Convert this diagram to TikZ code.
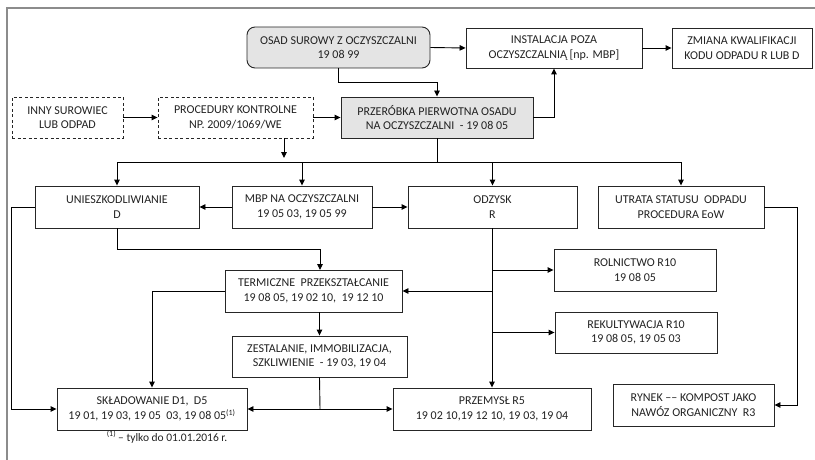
\documentclass[tikz,border=0pt]{standalone}
\usepackage{fontspec}
\setmainfont{Carlito}
\usetikzlibrary{arrows.meta}
\definecolor{boxgray}{HTML}{E4E4E4}
\definecolor{txt}{HTML}{222222}
\definecolor{frame}{HTML}{8C8C8C}
\tikzset{
  box/.style={draw=black!85, line width=0.9pt, align=center, inner sep=0pt,
    font=\fontsize{12}{14.5}\selectfont, text=txt},
  graybox/.style={box, fill=boxgray},
  dashbox/.style={box, dashed, dash pattern=on 3pt off 2.5pt},
  conn/.style={draw=black, line width=0.9pt},
  arr/.style={conn, -{Triangle[length=6pt,width=5.5pt]}},
}
\begin{document}
\begin{tikzpicture}[x=1pt,y=-1pt]
\useasboundingbox (0,0) rectangle (815,460);
\draw[frame, line width=1.6pt] (7,460) -- (7,8) -- (815,8);

% top row
\node[graybox, rounded corners=8pt, minimum width=183, minimum height=41] (osad) at (338.5,47.5) {OSAD SUROWY Z OCZYSZCZALNI\\19 08 99};
\node[box, minimum width=176, minimum height=40] (inst) at (554,48) {INSTALACJA POZA\\OCZYSZCZALNIĄ [np. MBP]};
\node[box, minimum width=140, minimum height=40] (zmiana) at (742,48) {ZMIANA KWALIFIKACJI\\KODU ODPADU R LUB D};

% second row
\node[dashbox, minimum width=111, minimum height=41] (inny) at (67.5,117.5) {INNY SUROWIEC\\LUB ODPAD};
\node[dashbox, minimum width=155, minimum height=41] (proc) at (235.5,117.5) {PROCEDURY KONTROLNE\\NP. 2009/1069/WE};
\node[graybox, minimum width=192, minimum height=41] (przer) at (437,117.5) {PRZERÓBKA PIERWOTNA OSADU\\NA OCZYSZCZALNI \ - 19 08 05};

% third row
\node[box, minimum width=164, minimum height=42] (unies) at (117,207) {UNIESZKODLIWIANIE\\D};
\node[box, minimum width=140, minimum height=42] (mbp) at (302,207) {MBP NA OCZYSZCZALNI\\19 05 03, 19 05 99};
\node[box, minimum width=169, minimum height=42] (odzysk) at (492.5,207) {ODZYSK\\R};
\node[box, minimum width=166, minimum height=42] (utrata) at (681,207) {UTRATA STATUSU \ ODPADU\\PROCEDURA EoW};

% lower part
\node[box, minimum width=177, minimum height=42] (term) at (313.5,291) {TERMICZNE \ PRZEKSZTAŁCANIE\\19 08 05, 19 02 10, \ 19 12 10};
\node[box, minimum width=162, minimum height=42] (roln) at (635,270) {ROLNICTWO R10\\19 08 05};
\node[box, minimum width=162, minimum height=41] (rekult) at (636,332.5) {REKULTYWACJA R10\\19 08 05, 19 05 03};
\node[box, minimum width=175, minimum height=41] (zest) at (319.5,356.5) {ZESTALANIE, IMMOBILIZACJA,\\SZKLIWIENIE \ - 19 03, 19 04};
\node[box, minimum width=190, minimum height=42] (sklad) at (152,409) {SKŁADOWANIE D1, \ D5\\19 01, 19 03, 19 05 \ 03, 19 08 05\textsuperscript{(1)}};
\node[box, minimum width=198, minimum height=42] (przem) at (492,409) {PRZEMYSŁ R5\\19 02 10,19 12 10, 19 03, 19 04};
\node[box, minimum width=161, minimum height=42] (rynek) at (693.5,405) {RYNEK –– KOMPOST JAKO\\NAWÓZ ORGANICZNY \ R3};

\node[font=\fontsize{11.5}{13}\selectfont, text=txt, inner sep=0pt] (foot) at (167,437) {\textsuperscript{(1)}\,– tylko do 01.01.2016 r.};

% coordinates
\coordinate (bus) at (437,162);
\coordinate (procend) at (284,158);

% connectors top
\draw[arr] (osad.south) -- ++(0,14) -| (przer.north);
\draw[arr] (osad.east) -- (inst.west);
\draw[arr] (inst.east) -- (zmiana.west);
\draw[arr] (przer.east) -| (inst.south);
\draw[arr] (inny.east) -- (proc.west);
\draw[arr] (proc.east) -- (przer.west);
\draw[arr] (proc.south -| procend) -- (procend);

% bus
\draw[conn] (przer.south) -- (bus);
\draw[conn] (unies.north |- bus) -- (utrata.north |- bus);
\draw[arr] (unies.north |- bus) -- (unies.north);
\draw[arr] (mbp.north |- bus) -- (mbp.north);
\draw[arr] (odzysk.north |- bus) -- (odzysk.north);
\draw[arr] (utrata.north |- bus) -- (utrata.north);

\draw[arr] (mbp.west) -- (unies.east);
\draw[arr] (mbp.east) -- (odzysk.west);

% unieszkodliwianie
\draw[arr] (unies.west) -- ++(-23,0) |- (sklad.west);
\coordinate (termin) at (320,270);
\draw[arr] (unies.south) -- ++(0,21) -| (termin);
\draw[arr] (term.west) -| (sklad.north);
\draw[arr] (zest.north |- term.south) -- (zest.north);
\coordinate (zjoin) at (320,409);
\draw[conn] (zest.south) -- (zjoin);
\draw[arr] (zjoin) -- (sklad.east);
\draw[arr] (zjoin) -- (zjoin -| przem.west);

% odzysk
\draw[arr] (odzysk.south -| przem.north) -- (przem.north);
\draw[arr] (przem.north |- roln.west) -- (roln.west);
\draw[arr] (przem.north |- term.east) -- (term.east);
\draw[arr] (przem.north |- rekult.west) -- (rekult.west);

% utrata
\draw[arr] (utrata.east) -- ++(33,0) |- (rynek.east);
\end{tikzpicture}
\end{document}
